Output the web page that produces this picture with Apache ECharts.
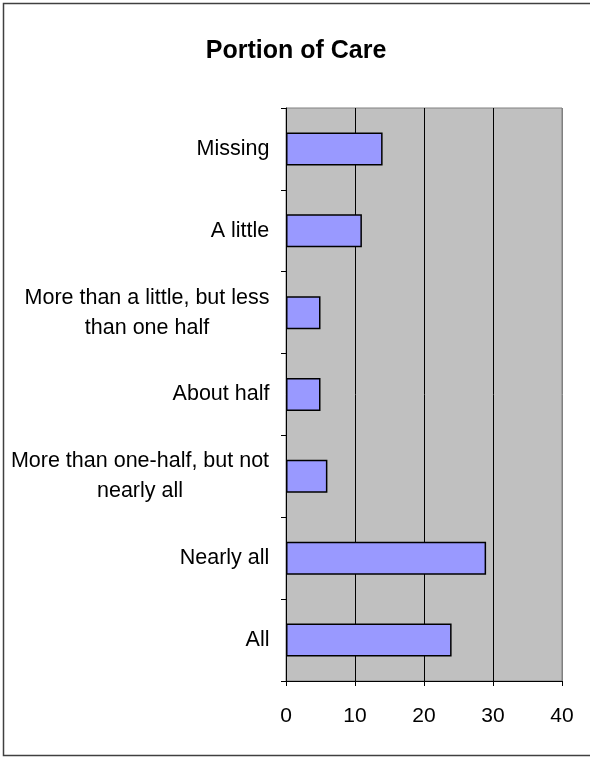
<!DOCTYPE html>
<html>
<head>
<meta charset="utf-8">
<script src="https://cdn.jsdelivr.net/npm/echarts@6/dist/echarts.min.js"></script>
<style>
  html, body { margin: 0; padding: 0; background: #ffffff; }
  #chart { width: 590px; height: 757px; }
</style>
</head>
<body>
<div id="chart"></div>
<script>
// Categories listed bottom-to-top (category axis on y starts at the bottom)
const categories = [
  'All',
  'Nearly all',
  'More than one-half, but not\nnearly all',
  'About half',
  'More than a little, but less\nthan one half',
  'A little',
  'Missing'
];
const counts = [24, 29, 6, 5, 5, 11, 14];
const xTicks = [0, 10, 20, 30, 40];

const fontFamily = '"Liberation Sans", Arial, sans-serif';
const labelSize = 21.5;

// Each multi-line label is right-aligned as a block, with its lines centred on each other.
const measureCtx = document.createElement('canvas').getContext('2d');
measureCtx.font = labelSize + 'px ' + fontFamily;
const rich = {};
const labelKey = {};
categories.forEach((c, i) => {
  const w = Math.max(...c.split('\n').map(s => measureCtx.measureText(s).width));
  const key = 'l' + i;
  labelKey[c] = key;
  rich[key] = {
    width: Math.ceil(w) + 1,
    align: 'center',
    fontSize: labelSize,
    lineHeight: 30,
    color: '#000000',
    fontFamily: fontFamily
  };
});

const chart = echarts.init(document.getElementById('chart'), null, { renderer: 'canvas' });

chart.setOption({
  backgroundColor: '#ffffff',
  animation: false,
  title: {
    text: 'Portion of Care',
    left: 291,
    textAlign: 'center',
    top: 34,
    textStyle: {
      fontFamily: fontFamily,
      fontWeight: 'bold',
      fontSize: 25,
      color: '#000000'
    }
  },
  graphic: [{
    type: 'rect',
    shape: { x: 3.5, y: 3.5, width: 610, height: 752 },
    style: { fill: 'none', stroke: '#404040', lineWidth: 1.5 },
    z: 100
  }],
  grid: {
    left: 286,
    right: 28,
    top: 108,
    bottom: 76,
    show: true,
    backgroundColor: '#c0c0c0',
    borderColor: '#808080',
    borderWidth: 1
  },
  xAxis: {
    type: 'value',
    min: xTicks[0],
    max: xTicks[xTicks.length - 1],
    interval: 10,
    axisLine: { show: true, lineStyle: { color: '#000000', width: 1 } },
    axisTick: { show: true, inside: false, length: 5, lineStyle: { color: '#000000' } },
    axisLabel: {
      margin: 25,
      fontSize: 21,
      color: '#000000',
      fontFamily: fontFamily
    },
    splitLine: {
      show: true,
      lineStyle: { color: ['#000000', '#000000', '#000000', '#000000', '#808080'], width: 1 }
    }
  },
  yAxis: {
    type: 'category',
    data: categories,
    axisLine: { show: true, lineStyle: { color: '#000000', width: 1 } },
    axisTick: { show: true, inside: false, length: 5, lineStyle: { color: '#000000' } },
    axisLabel: {
      margin: 16,
      align: 'right',
      formatter: v => v.split('\n').map(s => '{' + labelKey[v] + '|' + s + '}').join('\n'),
      rich: rich
    },
    splitLine: { show: false }
  },
  series: [{
    type: 'bar',
    data: counts,
    barWidth: 33,
    itemStyle: {
      color: '#9999ff',
      borderColor: '#000000',
      borderWidth: 1.5
    }
  }]
});
</script>
</body>
</html>
